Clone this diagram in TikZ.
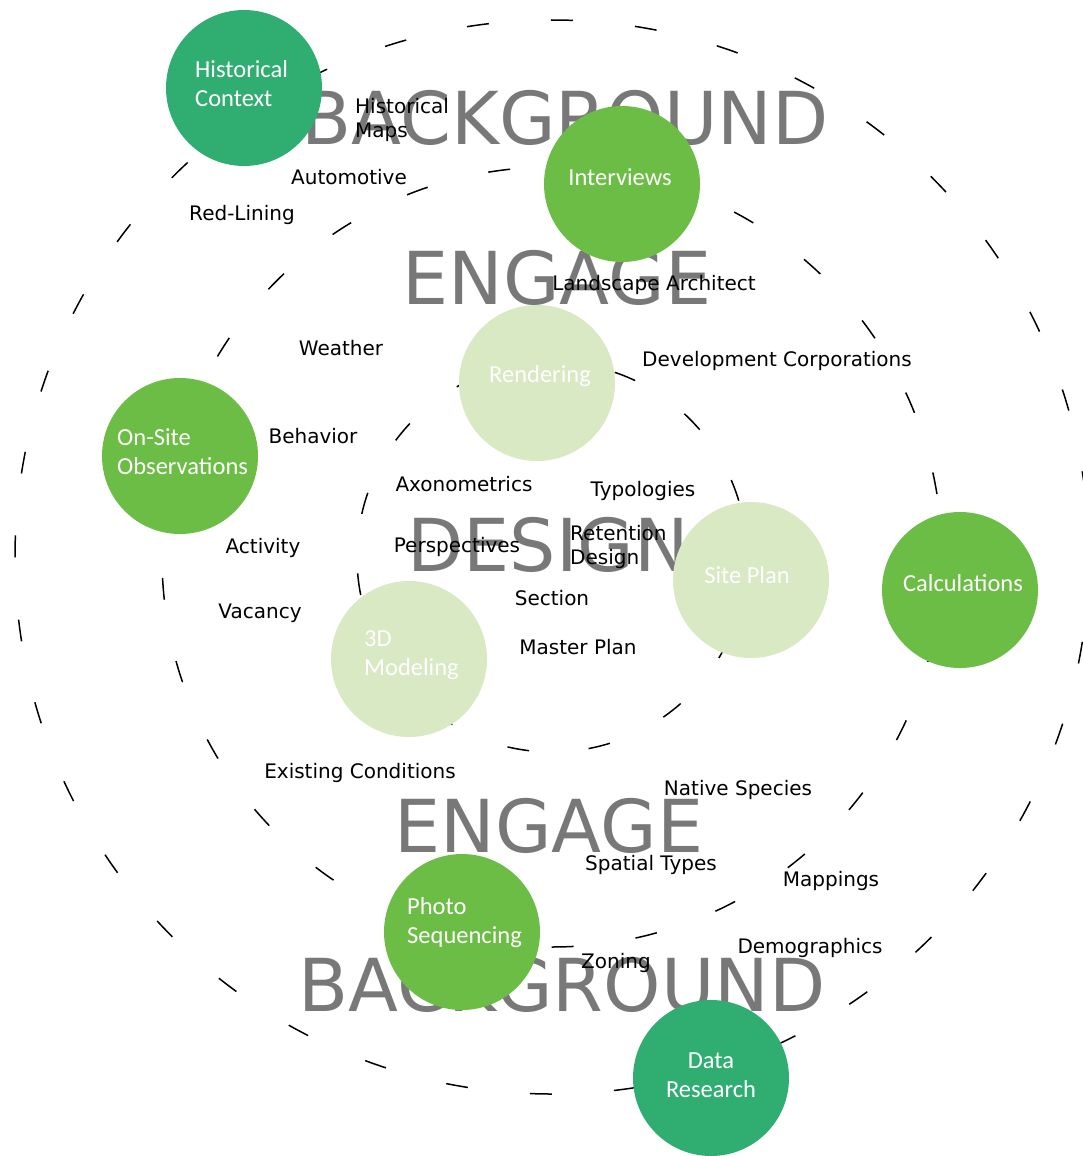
\documentclass[tikz,border=0pt]{standalone}
\usepackage{fontspec}
\setmainfont{DejaVu Sans}
\newfontfamily\circlefont{Carlito}
\definecolor{darkgreen}{RGB}{48,174,114}
\definecolor{midgreen}{RGB}{108,189,69}
\definecolor{palegreen}{RGB}{216,233,195}
\definecolor{wordgrey}{RGB}{120,120,120}
\tikzset{
    ring/.style={draw=black,line width=1.5pt},
    stage/.style={text=wordgrey,inner sep=0pt,font=\fontsize{73}{73}\selectfont},
    method/.style={circle,minimum size=156pt,inner sep=0pt},
    methodtext/.style={text=white,inner sep=0pt,align=left,font=\circlefont\fontsize{24.5}{29}\selectfont},
    topic/.style={inner sep=0pt,align=left,font=\fontsize{20}{24}\selectfont},
}
\begin{document}
\begin{tikzpicture}[x=1pt,y=-1pt]
        \useasboundingbox (0,0) rectangle (1083,1156);
        %% rings
        \coordinate (c) at (552,557);
        \draw[ring,dash pattern=on 22pt off 62.3pt,dash phase=20.3pt] (c) circle[radius=537pt];
        \draw[ring,dash pattern=on 22pt off 62.5pt,dash phase=21.3pt] (c) circle[radius=390pt];
        \draw[ring,dash pattern=on 22pt off 59.7pt,dash phase=24.6pt] (c) circle[radius=195pt];
        %% stages
        \node[stage] (bgtop) at (565,118) {BACKGROUND};
        \node[stage] (engtop) at (557,278) {ENGAGE};
        \node[stage] (design) at (548,545) {DESIGN};
        \node[stage] (engbot) at (549,826) {ENGAGE};
        \node[stage] (bgbot) at (562,985) {BACKGROUND};
        %% methods
        \node[method,fill=darkgreen] (history) at (244,88) {};
        \node[methodtext,anchor=west] (history-t) at (195,84) {Historical\\Context};
        \node[method,fill=midgreen] (interviews) at (622,184) {};
        \node[methodtext] (interviews-t) at (620,177) {Interviews};
        \node[method,fill=palegreen] (rendering) at (537,383) {};
        \node[methodtext] (rendering-t) at (540,376) {Rendering};
        \node[method,fill=midgreen] (onsite) at (180,456) {};
        \node[methodtext,anchor=west] (onsite-t) at (117,452) {On-Site\\Observations};
        \node[method,fill=palegreen] (siteplan) at (751,580) {};
        \node[methodtext] (siteplan-t) at (747,575) {Site Plan};
        \node[method,fill=midgreen] (calc) at (960,590) {};
        \node[methodtext] (calc-t) at (963,583) {Calculations};
        \node[method,fill=palegreen] (modeling) at (409,659) {};
        \node[methodtext,anchor=west] (modeling-t) at (364,655) {3D\\Modeling};
        \node[method,fill=midgreen] (photo) at (462,932) {};
        \node[methodtext,anchor=west] (photo-t) at (407,923) {Photo\\Sequencing};
        \node[method,fill=darkgreen] (data) at (711,1078) {};
        \node[methodtext,align=center] (data-t) at (711,1075) {Data\\Research};
        %% topics
        \node[topic,anchor=west] (maps) at (355,120) {Historical\\Maps};
        \node[topic] (auto) at (349,177) {Automotive};
        \node[topic] (redline) at (242,215) {Red-Lining};
        \node[topic] (landscape) at (654,285) {Landscape Architect};
        \node[topic] (weather) at (341,348) {Weather};
        \node[topic] (devcorp) at (777,361) {Development Corporations};
        \node[topic] (behavior) at (313,436) {Behavior};
        \node[topic] (axono) at (464,484) {Axonometrics};
        \node[topic] (typo) at (643,491) {Typologies};
        \node[topic] (activity) at (263,548) {Activity};
        \node[topic] (persp) at (457,547) {Perspectives};
        \node[topic,anchor=west] (retention) at (570,547) {Retention\\Design};
        \node[topic] (section) at (552,598) {Section};
        \node[topic] (vacancy) at (260,613) {Vacancy};
        \node[topic] (master) at (578,647) {Master Plan};
        \node[topic] (existing) at (360,773) {Existing Conditions};
        \node[topic] (native) at (738,790) {Native Species};
        \node[topic] (spatial) at (651,865) {Spatial Types};
        \node[topic] (mappings) at (831,881) {Mappings};
        \node[topic] (demo) at (810,948) {Demographics};
        \node[topic] (zoning) at (616,963) {Zoning};
\end{tikzpicture}
\end{document}
